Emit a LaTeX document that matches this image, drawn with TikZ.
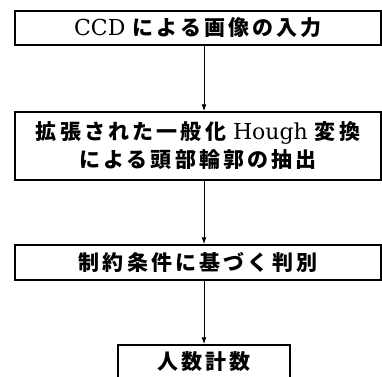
\documentclass[tikz,border=0pt]{standalone}
\usepackage{fontspec}
\setmainfont{DejaVu Serif}
\newfontfamily\jp[LetterSpace=15]{Noto Sans CJK JP}
\newcommand{\jpt}[1]{{\fontsize{21}{28}\selectfont\jp\bfseries #1}}
\newcommand{\lat}[1]{{\fontsize{22}{28}\selectfont #1}}
\usetikzlibrary{arrows.meta}
\tikzset{
  boxnode/.style={draw, line width=1.5pt, inner sep=0pt, align=center, font=\fontsize{22}{28}\selectfont},
  flow/.style={line width=1pt, -{Latex[length=7pt,width=5pt]}}
}
\begin{document}
\begin{tikzpicture}[x=1pt,y=-1pt]
\useasboundingbox (0,0) rectangle (382,376);
\node[boxnode, minimum width=366pt, minimum height=34pt] (b1) at (198,28) {\lat{CCD\ }\jpt{による画像の入力}};
\node[boxnode, minimum width=366pt, minimum height=68pt] (b2) at (198,146) {\jpt{拡張された一般化}\lat{\ Hough\ }\jpt{変換}\\\jpt{による頭部輪郭の抽出}};
\node[boxnode, minimum width=366pt, minimum height=35pt] (b3) at (198,262.5) {\jpt{制約条件に基づく判別}};
\node[boxnode, minimum width=172pt, minimum height=34pt] (b4) at (204,362) {\jpt{人数計数}};
\draw[flow] (b1.south -| b4.north) -- (b2.north -| b4.north);
\draw[flow] (b2.south -| b4.north) -- (b3.north -| b4.north);
\draw[flow] (b3.south -| b4.north) -- (b4.north);
\end{tikzpicture}
\end{document}
